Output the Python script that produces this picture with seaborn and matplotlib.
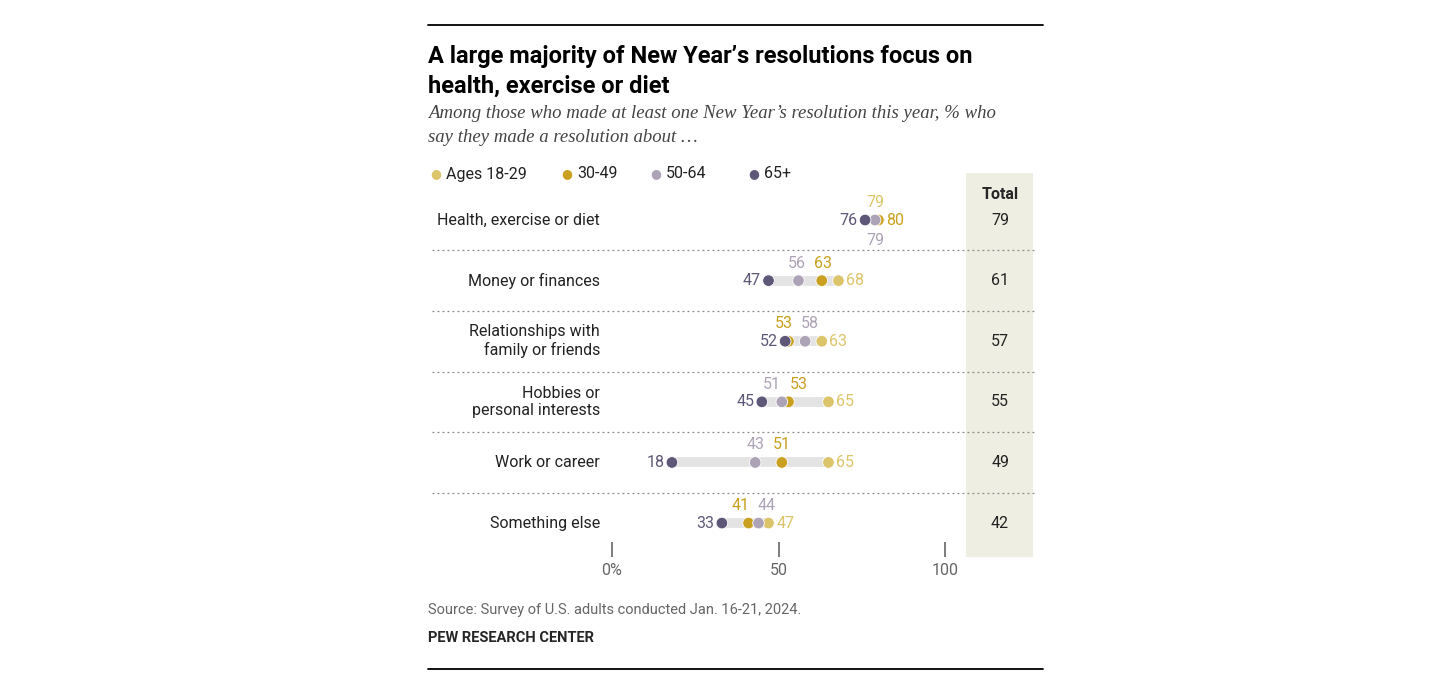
import numpy as np
import pandas as pd
import seaborn as sns
import matplotlib.pyplot as plt
from matplotlib.patches import Rectangle

W, H = 1456, 694
sns.set_style("white")
plt.rcParams['font.family'] = ['Roboto', 'DejaVu Sans']

cats = ["Health, exercise or diet", "Money or finances", "Relationships with\nfamily or friends",
        "Hobbies or\npersonal interests", "Work or career", "Something else"]
ages = ["Ages 18-29", "30-49", "50-64", "65+"]
vals = {
    "Ages 18-29": [79, 68, 63, 65, 65, 47],
    "30-49":      [80, 63, 53, 53, 51, 41],
    "50-64":      [79, 56, 58, 51, 43, 44],
    "65+":        [76, 47, 52, 45, 18, 33],
}
total = [79, 61, 57, 55, 49, 42]
colors = {"Ages 18-29": "#dcc46a", "30-49": "#c9a020", "50-64": "#ada3b6", "65+": "#5f5777"}
# label placement per row: l=left, r=right, a=above, b=below
place = [
    {"Ages 18-29": "a", "30-49": "r", "50-64": "b", "65+": "l"},
    {"Ages 18-29": "r", "30-49": "a", "50-64": "a", "65+": "l"},
    {"Ages 18-29": "r", "30-49": "a", "50-64": "a", "65+": "l"},
    {"Ages 18-29": "r", "30-49": "a", "50-64": "a", "65+": "l"},
    {"Ages 18-29": "r", "30-49": "a", "50-64": "a", "65+": "l"},
    {"Ages 18-29": "r", "30-49": "a", "50-64": "a", "65+": "l"},
]

rows = []
for a in ages:
    for i, v in enumerate(vals[a]):
        rows.append({"row": i, "age": a, "val": v})
df = pd.DataFrame(rows)

fig = plt.figure(figsize=(W / 100, H / 100), dpi=100)
def fx(px): return px / W
def fy(py): return 1 - py / H

ax_l, ax_r, ax_t, ax_b = 612, 945, 173, 557
ax = fig.add_axes([fx(ax_l), fy(ax_b), fx(ax_r - ax_l), (ax_b - ax_t) / H])
ax.set_xlim(0, 100)
ax.set_ylim(5.56, -0.776)
upx = 100 / (ax_r - ax_l)   # data units per pixel
rpx = 1 / 60.6              # row units per pixel
fs = 11.5

# total column
ax.add_patch(Rectangle(((966 - 612) * upx, -0.776), (1033 - 966) * upx, 6.336,
                       facecolor="#efeee2", edgecolor="none", clip_on=False, zorder=0))
ax.text((1000 - 612) * upx, -0.776 + 21 * rpx, "Total", ha="center", va="center", fontsize=fs, fontweight="bold")

for i in range(6):
    lo = min(vals[a][i] for a in ages)
    hi = max(vals[a][i] for a in ages)
    ax.plot([lo, hi], [i, i], color="#e3e3e3", lw=7, solid_capstyle="butt", zorder=1)
    ax.text(-3.6, i, cats[i], ha="right", va="center", fontsize=fs, color="#222222", linespacing=1.2)
    ax.text((1000 - 612) * upx, i, str(total[i]), ha="center", va="center", fontsize=fs, color="#222222")
    if i < 5:
        ax.plot([(432 - 612) * upx, (1035 - 612) * upx], [i + 0.5, i + 0.5], color="#888888",
                lw=0.9, ls=(0, (1.5, 2.5)), clip_on=False, zorder=1)
    # spread labels above the dots if they sit too close
    above = sorted([a for a in ages if place[i][a] == "a"], key=lambda a: vals[a][i])
    shift = {}
    if len(above) == 2:
        gap = vals[above[1]][i] - vals[above[0]][i]
        if gap < 8:
            d = (8 - gap) / 2
            shift[above[0]] = -d
            shift[above[1]] = d
    for a in ages:
        v = vals[a][i]
        p = place[i][a]
        if p == "l":
            ax.text(v - 2.3, i, str(v), ha="right", va="center", fontsize=fs, color=colors[a])
        elif p == "r":
            ax.text(v + 2.3, i, str(v), ha="left", va="center", fontsize=fs, color=colors[a])
        elif p == "a":
            ax.text(v + shift.get(a, 0), i - 0.29, str(v), ha="center", va="center", fontsize=fs, color=colors[a])
        else:
            ax.text(v, i + 0.33, str(v), ha="center", va="center", fontsize=fs, color=colors[a])

sns.scatterplot(data=df, x="val", y="row", hue="age", palette=colors, s=70, edgecolor="white",
                linewidth=0.6, legend=False, ax=ax, zorder=3, clip_on=False)

sns.despine(ax=ax, left=True, bottom=True)
ax.set_yticks([])
ax.set_xticks([0, 50, 100])
ax.set_xticklabels(["0%", "50", "100"], fontsize=fs, color="#666666")
ax.tick_params(axis="x", bottom=True, length=11, width=1.2, color="#666666", pad=4, direction="in")
ax.set_xlabel("")
ax.set_ylabel("")

# legend
lx = [436, 567, 656, 754]
for a, x in zip(ages, lx):
    fig.text(fx(x), fy(174), "\u25cf", color=colors[a], fontsize=9, ha="center", va="center",
             family=['DejaVu Sans'])
    fig.text(fx(x + 10), fy(174), a, fontsize=fs, ha="left", va="center", color="#222222")

# title and notes
fig.add_artist(plt.Line2D([fx(428), fx(1043)], [fy(25), fy(25)], color="black", lw=1.3))
fig.add_artist(plt.Line2D([fx(428), fx(1043)], [fy(669), fy(669)], color="black", lw=1.3))
fig.text(fx(428), fy(57), "A large majority of New Year\u2019s resolutions focus on", fontsize=17,
         fontweight="bold", va="center", color="black")
fig.text(fx(428), fy(86), "health, exercise or diet", fontsize=17, fontweight="bold", va="center",
         color="black")
fig.text(fx(428), fy(113), "Among those who made at least one New Year\u2019s resolution this year, % who",
         fontsize=13.5, style="italic", va="center", color="#444444", family=['Liberation Serif'])
fig.text(fx(428), fy(137), "say they made a resolution about \u2026", fontsize=13.5, style="italic",
         va="center", color="#444444", family=['Liberation Serif'])
fig.text(fx(428), fy(610), "Source: Survey of U.S. adults conducted Jan. 16-21, 2024.", fontsize=10.5,
         va="center", color="#666666")
fig.text(fx(428), fy(638), "PEW RESEARCH CENTER", fontsize=10.5, fontweight="bold", va="center")

fig.savefig("out.png", dpi=100)
plt.close()
